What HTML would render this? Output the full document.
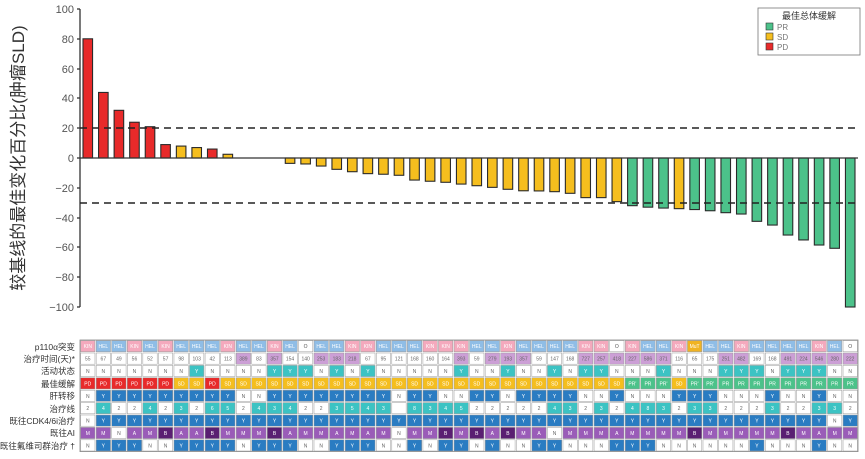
<!DOCTYPE html>
<html><head><meta charset="utf-8">
<style>
html,body{margin:0;padding:0;background:#fff;width:865px;height:459px;overflow:hidden}
svg{display:block}
text{font-family:"Liberation Sans","Noto Sans CJK SC",sans-serif}
</style></head><body>
<svg id="s" width="865" height="459" viewBox="0 0 865 459" xmlns="http://www.w3.org/2000/svg">
<text transform="translate(24,158) rotate(-90)" text-anchor="middle" font-size="17" fill="#333">较基线的最佳变化百分比(肿瘤SLD)</text>
<g font-size="11" fill="#555" text-anchor="end">
<text x="74" y="13">100</text><text x="74" y="43">80</text><text x="74" y="73">60</text><text x="74" y="102">40</text><text x="74" y="132">20</text><text x="74" y="162">0</text><text x="74" y="192">−20</text><text x="74" y="222">−40</text><text x="74" y="251">−60</text><text x="74" y="281">−80</text><text x="74" y="311">−100</text>
</g>
<g id="bars"></g>
<line x1="80" y1="9" x2="80" y2="307" stroke="#333" stroke-width="1.3"/>
<g stroke="#333" stroke-width="1.3">
<line x1="77" y1="9" x2="80" y2="9"/><line x1="77" y1="39" x2="80" y2="39"/><line x1="77" y1="69" x2="80" y2="69"/><line x1="77" y1="98" x2="80" y2="98"/><line x1="77" y1="128" x2="80" y2="128"/><line x1="77" y1="158" x2="80" y2="158"/><line x1="77" y1="188" x2="80" y2="188"/><line x1="77" y1="218" x2="80" y2="218"/><line x1="77" y1="247" x2="80" y2="247"/><line x1="77" y1="277" x2="80" y2="277"/><line x1="77" y1="307" x2="80" y2="307"/>
</g>
<line x1="80" y1="158" x2="858" y2="158" stroke="#333" stroke-width="1.3"/>
<line x1="80" y1="128" x2="857" y2="128" stroke="#222" stroke-width="1.6" stroke-dasharray="7,5"/>
<line x1="80" y1="203" x2="857" y2="203" stroke="#222" stroke-width="1.6" stroke-dasharray="7,5"/>
<rect x="758" y="8" width="102" height="47" fill="#fff" stroke="#777" stroke-width="0.8"/>
<text x="809" y="19" text-anchor="middle" font-size="9" fill="#333">最佳总体缓解</text>
<rect x="766" y="23" width="7" height="7" fill="#4cc28a" stroke="#333" stroke-width="0.6"/><text x="777" y="30" font-size="8" fill="#777">PR</text>
<rect x="766" y="33" width="7" height="7" fill="#f5be1e" stroke="#333" stroke-width="0.6"/><text x="777" y="40" font-size="8" fill="#777">SD</text>
<rect x="766" y="43" width="7" height="7" fill="#e82a2a" stroke="#333" stroke-width="0.6"/><text x="777" y="50" font-size="8" fill="#777">PD</text>
<g font-size="8.5" fill="#333" text-anchor="end">
<text x="75" y="350">p110α突变</text>
<text x="75" y="362">治疗时间(天)*</text>
<text x="75" y="374">活动状态</text>
<text x="75" y="387">最佳缓解</text>
<text x="75" y="399">肝转移</text>
<text x="75" y="412">治疗线</text>
<text x="75" y="424">既往CDK4/6i治疗</text>
<text x="75" y="436">既往AI</text>
<text x="75" y="449">既往氟维司群治疗 †</text>
</g>
<g id="tbl"></g>
</svg>
<script>
var NS="http://www.w3.org/2000/svg";
function el(p,t,a,txt){var e=document.createElementNS(NS,t);for(var k in a)e.setAttribute(k,a[k]);if(txt!=null)e.textContent=txt;p.appendChild(e);return e;}
var vals=[80,44,32,24,21,9,8,7,6,2.5,0,0,0,-3.6,-4,-5.4,-7.6,-9.2,-10.5,-10.9,-11.6,-14.8,-15.6,-16.3,-17.5,-18.6,-19.7,-21,-22,-22.1,-22.6,-23.7,-26.6,-26.6,-29.3,-32,-33,-33.6,-34,-34.6,-35.4,-36.7,-37.6,-42.5,-45,-51.7,-55,-58.4,-60.6,-100];
var resp="PD PD PD PD PD PD SD SD PD SD SD SD SD SD SD SD SD SD SD SD SD SD SD SD SD SD SD SD SD SD SD SD SD SD SD PR' PR PR' SD PR' PR' PR PR PR PR PR PR PR PR PR".split(" ");
var cw=15.56,x0=80,z=158,sc=1.49;
var bg=document.getElementById("bars");
var bc={PD:"#e82a2a",SD:"#f5be1e",PR:"#4cc28a"};
vals.forEach(function(v,i){if(!v)return;var r=resp[i].replace("'","");var h=Math.abs(v)*sc;
el(bg,"rect",{x:x0+i*cw+3,y:v>0?z-h:z,width:cw-6,height:h,fill:bc[r],stroke:"#2a2a2a","stroke-width":1.1});});
var rows=[
"KIN HEL HEL KIN HEL KIN HEL HEL HEL KIN HEL HEL KIN HEL O HEL HEL KIN KIN HEL HEL HEL KIN KIN KIN HEL HEL KIN HEL HEL HEL HEL KIN KIN O KIN HEL HEL KIN MuT HEL HEL KIN HEL HEL HEL HEL KIN HEL O",
"55 67 49 56 52 57 98 103 42 113 389p 83 357p 154 140 253p 183p 218p 67 95 121 168 160 164 393p 59 279p 193p 357p 59 147 168 727p 257p 418p 227p 586p 371p 116 65 175 251p 482p 169 168 491p 224p 546p 280p 222p",
"N N N N N N N Y N N N N Y Y Y N Y N Y N N N N N Y N N Y N N Y N Y Y N N N Y N N N Y Y Y N Y Y Y N N",
resp.join(" "),
"N Y Y Y Y Y Y Y Y Y N N Y Y Y Y Y Y Y Y N Y Y N N Y Y N Y Y Y Y N N Y N N N Y Y Y N N N Y N N Y N N",
"2 4t 2 2 4t 2 3t 2 6t 5t 2 4t 3t 4t 2 2 3t 5t 4t 3t _ 8t 3t 4t 5t 2 2 2 2 2 4t 3t 2 3t 2 4t 8t 3t 2 3t 3t 2 2 2 3t 2 2 3t 3t 2",
"N Y Y Y Y Y Y Y Y Y Y Y Y Y Y Y Y Y Y Y Y Y Y Y Y Y Y Y Y Y Y Y Y Y Y Y Y Y Y Y Y Y Y Y Y Y Y Y N Y",
"M M N A M B A A B M M M B A M M A M A M N M M B M B A B M A N M M M A M M M M B M M M M M B M A M M",
"N Y Y Y N N Y Y Y Y N Y Y Y N N Y Y Y N N Y N Y Y N Y N N Y Y N N N Y Y Y N N N N N N Y N N N Y N N"];
var tg=document.getElementById("tbl");
var ty=340,rh=12.4;
el(tg,"rect",{x:80,y:ty,width:778,height:rh*9,fill:"#fff",stroke:"#888","stroke-width":0.8});
rows.forEach(function(r,ri){var it=r.split(" ");it.forEach(function(c,i){
var fill="#fff",tc="#666",t=c;
if(ri==0){fill={KIN:"#f4a9bd",HEL:"#8fbde6",O:"#fff",MuT:"#f0b323"}[c];tc=c=="O"?"#555":"#fff";}
else if(ri==1){if(c.slice(-1)=="p"){fill="#cc9fd6";t=c.slice(0,-1);}}
else if(ri==2){if(c=="Y"){fill="#3cc3c3";tc="#fff";}}
else if(ri==3){fill=bc[c.replace("'","")];tc="#fff";}
else if(ri==4||ri==6||ri==8){if(c=="Y"){fill="#2a7cc2";tc="#fff";}}
else if(ri==5){if(c=="_")t="";else if(c.slice(-1)=="t"){fill="#3cc3c3";t=c.slice(0,-1);tc="#fff";}}
else if(ri==7){fill={M:"#9a5cb8",A:"#9a5cb8",B:"#5a1f72",N:"#fff"}[c];tc=c=="N"?"#666":"#fff";}
var x=80+i*cw,y=ty+ri*rh;
el(tg,"rect",{x:x+0.6,y:y+0.6,width:cw-1.2,height:rh-1.2,fill:fill,stroke:"#999","stroke-width":0.5});
el(tg,"text",{x:x+cw/2,y:y+rh/2+2,"text-anchor":"middle","font-size":5,fill:tc},t);
});});
</script>
</body></html>
